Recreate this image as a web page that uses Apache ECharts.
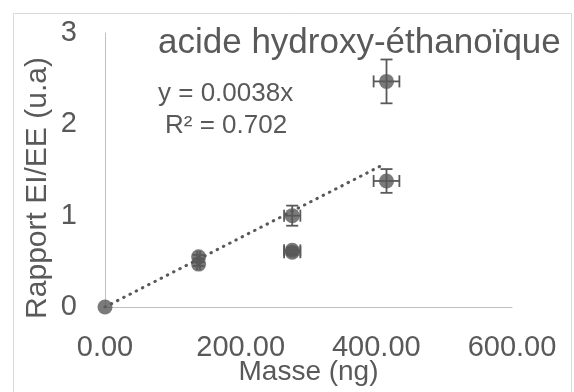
<!DOCTYPE html>
<html><head><meta charset="utf-8">
<script src="https://cdn.jsdelivr.net/npm/echarts@6/dist/echarts.min.js"></script>
<style>html,body{margin:0;padding:0;background:#fff}#c{width:574px;height:392px;}</style>
</head><body><div id="c"></div>
<script>
var title = "acide hydroxy-éthanoïque";
var xName = "Masse (ng)";
var yName = "Rapport EI/EE (u.a)";
var masses = [0, 138, 138, 276, 276, 276, 415, 415];
var ratios = [0, 0.55, 0.47, 1.00, 0.62, 0.60, 2.47, 1.38];
var xErrors = [0, 2, 2, 12, 12, 12, 19, 19];
var yErrors = [0, 0.02, 0.02, 0.11, 0.03, 0.03, 0.24, 0.13];
var slope = 0.0038;
var trendEnd = 413;
var eqText = "y = 0.0038x";
var r2Text = "R² = 0.702";

var points = masses.map(function(m,i){return [m, ratios[i]];});
var errData = masses.map(function(m,i){return [m, ratios[i], xErrors[i], yErrors[i]];});
var col = '#595959';
var font = 'Liberation Sans';
var chart = echarts.init(document.getElementById('c'), null, {renderer:'canvas'});
chart.setOption({
  animation:false,
  grid:{left:105, right:62, top:33, bottom:85, containLabel:false, outerBoundsMode:'none'},
  graphic:[
    {type:'rect', shape:{x:13.5, y:13.5, width:558, height:390}, style:{fill:'none', stroke:'#d9d9d9', lineWidth:1}, silent:true, z:-1},
    {type:'text', x:158, y:43, style:{text:title, fontFamily:font, fontSize:35, fill:col, verticalAlign:'middle'}},
    {type:'text', x:158, y:94, style:{text:eqText, fontFamily:font, fontSize:26, fill:col, verticalAlign:'middle'}},
    {type:'text', x:165, y:126, style:{text:r2Text, fontFamily:font, fontSize:26, fill:col, verticalAlign:'middle'}},
    {type:'text', x:38, y:188, rotation:Math.PI/2, style:{text:yName, fontFamily:font, fontSize:30, fill:col, align:'center', verticalAlign:'middle'}}
  ],
  xAxis:{type:'value', min:0, max:600, interval:200, name:xName, nameLocation:'middle', nameGap:65, nameMoveOverlap:false,
    nameTextStyle:{fontFamily:font, fontSize:28, color:col, align:'center', verticalAlign:'middle'},
    axisLine:{show:true, lineStyle:{color:'#bfbfbf', width:1}}, axisTick:{show:false}, splitLine:{show:false},
    axisLabel:{fontFamily:font, fontSize:29, color:col, margin:41, verticalAlign:'middle', formatter:function(v){return v.toFixed(2);}}},
  yAxis:{type:'value', min:0, max:3, interval:1,
    axisLine:{show:true, lineStyle:{color:'#bfbfbf', width:1}}, axisTick:{show:false}, splitLine:{show:false},
    axisLabel:{fontFamily:font, fontSize:29, color:col, margin:28}},
  series:[
    {type:'line', data:[[0,0],[trendEnd, slope*trendEnd]], symbol:'none', silent:true,
      lineStyle:{color:col, width:3, type:[0.5,6.5], cap:'round'}, z:1},
    {type:'custom', data:errData, z:2, renderItem:function(params, api){
      var x=api.value(0), y=api.value(1), ex=api.value(2), ey=api.value(3);
      var children=[];
      var st={stroke:col, lineWidth:1.8};
      if(ey>0){
        var t=api.coord([x,y+ey]), b=api.coord([x,y-ey]);
        children.push({type:'line', shape:{x1:t[0],y1:t[1],x2:b[0],y2:b[1]}, style:st});
        children.push({type:'line', shape:{x1:t[0]-6,y1:t[1],x2:t[0]+6,y2:t[1]}, style:st});
        children.push({type:'line', shape:{x1:b[0]-6,y1:b[1],x2:b[0]+6,y2:b[1]}, style:st});
      }
      if(ex>0){
        var l=api.coord([x-ex,y]), r=api.coord([x+ex,y]);
        children.push({type:'line', shape:{x1:l[0],y1:l[1],x2:r[0],y2:r[1]}, style:st});
        children.push({type:'line', shape:{x1:l[0],y1:l[1]-6,x2:l[0],y2:l[1]+6}, style:st});
        children.push({type:'line', shape:{x1:r[0],y1:r[1]-6,x2:r[0],y2:r[1]+6}, style:st});
      }
      return {type:'group', children:children};
    }},
    {type:'scatter', data:points, symbol:'circle', symbolSize:15, itemStyle:{color:col}, z:3}
  ]
});
</script></body></html>
